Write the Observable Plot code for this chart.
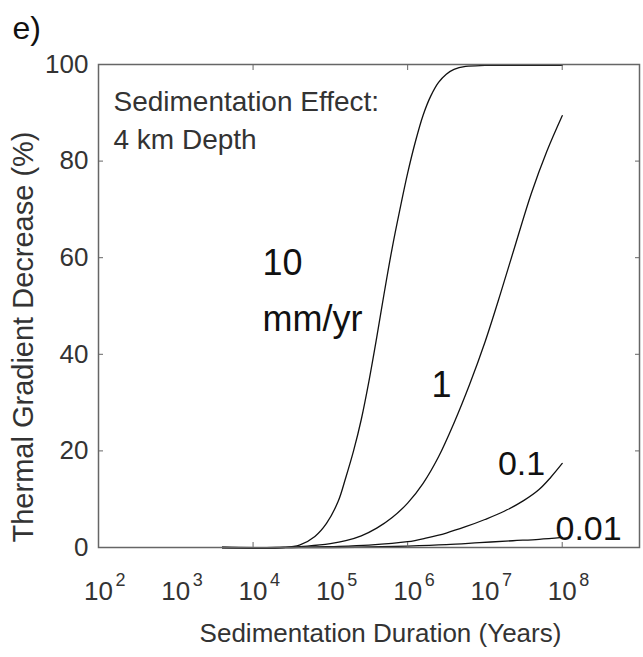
<!DOCTYPE html>
<html><head><meta charset="utf-8">
<script src="https://cdn.jsdelivr.net/npm/d3@7"></script>
<script src="https://cdn.jsdelivr.net/npm/@observablehq/plot@0.6"></script>
<style>body{margin:0;background:#fff} #chart svg{display:block}</style>
</head><body><div id="chart"></div>
<script>
const FONT = "'Liberation Sans', Arial, sans-serif";

// Curves: log10(years) and thermal gradient decrease (%)
const logT_10 = [3.6, 4.4, 4.6, 4.8, 4.95, 5.1, 5.2, 5.3, 5.4, 5.5, 5.6, 5.7, 5.8, 5.9, 6.0, 6.1, 6.2, 6.3, 6.4, 6.5, 6.6, 6.75, 7.0, 8.0];
const pct_10  = [0, 0, 0.5, 2.3, 5.0, 9.5, 14.5, 20.0, 26.5, 34.5, 43.5, 53.0, 62.0, 70.0, 77.5, 84.0, 89.5, 93.5, 96.3, 98.0, 99.0, 99.6, 99.8, 99.8];

const logT_1 = [3.6, 4.3, 4.7, 5.0, 5.2, 5.4, 5.6, 5.8, 6.0, 6.2, 6.4, 6.6, 6.8, 7.0, 7.2, 7.4, 7.6, 7.8, 8.0];
const pct_1  = [0, 0, 0.3, 0.8, 1.4, 2.4, 4.0, 6.2, 9.2, 13.3, 18.8, 25.8, 33.7, 42.5, 52.5, 63.0, 73.3, 82.0, 89.4];

const logT_01 = [3.6, 4.5, 5.0, 5.5, 6.0, 6.25, 6.5, 6.75, 7.0, 7.25, 7.5, 7.7, 7.85, 8.0];
const pct_01  = [0, 0, 0.2, 0.5, 1.2, 2.0, 3.0, 4.3, 5.8, 7.5, 9.7, 12.0, 14.5, 17.4];

const logT_001 = [3.6, 5.0, 5.5, 6.0, 6.5, 6.93, 7.36, 7.7, 8.0];
const pct_001  = [0, 0, 0.1, 0.3, 0.6, 1.0, 1.4, 1.7, 2.1];

// Axis ticks and labels
const xDecades = [1e2, 1e3, 1e4, 1e5, 1e6, 1e7, 1e8];
const xExponents = ["2", "3", "4", "5", "6", "7", "8"];
const xTickMarks = [1e2, 1e4, 1e6, 1e8];
const yTicks = [0, 20, 40, 60, 80, 100];

const series = (logT, pct) => logT.map((l, i) => ({t: Math.pow(10, l), p: pct[i]}));
const curves = [series(logT_10, pct_10), series(logT_1, pct_1), series(logT_01, pct_01), series(logT_001, pct_001)];

const lineOpts = {x: "t", y: "p", stroke: "#111", strokeWidth: 1.3, curve: "catmull-rom"};
const txt = "#333";

const plot = Plot.plot({
  width: 643, height: 657,
  marginLeft: 98, marginRight: 4, marginTop: 64, marginBottom: 110,
  style: {fontFamily: FONT, background: "#fff", overflow: "visible"},
  x: {type: "log", domain: [1e2, 1e9]},
  y: {domain: [0, 100]},
  marks: [
    ...curves.map(c => Plot.line(c, lineOpts)),
    Plot.frame({stroke: "#666", strokeWidth: 1.5}),
    Plot.axisX({anchor: "bottom", ticks: xTickMarks, tickSize: -5, tickFormat: () => "", label: null, stroke: "#666"}),
    Plot.axisX({anchor: "top", ticks: xTickMarks, tickSize: -5, tickFormat: () => "", label: null, stroke: "#666"}),
    Plot.axisY({anchor: "left", ticks: yTicks, tickSize: -5, tickPadding: 15, fontSize: 26, label: null, stroke: "#666", color: txt}),
    Plot.axisY({anchor: "right", ticks: yTicks, tickSize: -5, tickFormat: () => "", label: null, stroke: "#666"}),
    // x tick labels 10^n
    Plot.text(xDecades, {x: d => d, text: () => "10", frameAnchor: "bottom", dy: 52, fontSize: 26, fill: txt}),
    Plot.text(xDecades, {x: d => d, text: (d, i) => xExponents[i], frameAnchor: "bottom", dx: 22, dy: 38, fontSize: 18, fill: txt}),
    // axis titles
    Plot.text(["Sedimentation Duration (Years)"], {frameAnchor: "bottom", textAnchor: "middle", dx: 11.5, dy: 94, fontSize: 26, fill: txt}),
    Plot.text(["Thermal Gradient Decrease (%)"], {frameAnchor: "left", textAnchor: "middle", rotate: -90, dx: -75, dy: 31, fontSize: 29, fill: txt}),
    // panel label and inner title
    Plot.text(["e)"], {frameAnchor: "top-left", textAnchor: "start", dx: -86, dy: -48, fontSize: 32, fill: "#111"}),
    Plot.text(["Sedimentation Effect:"], {frameAnchor: "top-left", textAnchor: "start", dx: 15, dy: 27, fontSize: 28, fill: txt}),
    Plot.text(["4 km Depth"], {frameAnchor: "top-left", textAnchor: "start", dx: 15, dy: 65, fontSize: 28, fill: txt}),
    // curve labels
    Plot.text(["10"], {frameAnchor: "top-left", textAnchor: "start", dx: 164, dy: 185, fontSize: 36, fill: "#111"}),
    Plot.text(["mm/yr"], {frameAnchor: "top-left", textAnchor: "start", dx: 164, dy: 241, fontSize: 36, fill: "#111"}),
    Plot.text(["1"], {frameAnchor: "top-left", textAnchor: "middle", dx: 343, dy: 307, fontSize: 36, fill: "#111"}),
    Plot.text(["0.1"], {frameAnchor: "top-left", textAnchor: "middle", dx: 423, dy: 386, fontSize: 34, fill: "#111"}),
    Plot.text(["0.01"], {frameAnchor: "top-left", textAnchor: "start", dx: 457, dy: 451, fontSize: 34, fill: "#111"})
  ]
});
document.getElementById("chart").appendChild(plot);
</script></body></html>
